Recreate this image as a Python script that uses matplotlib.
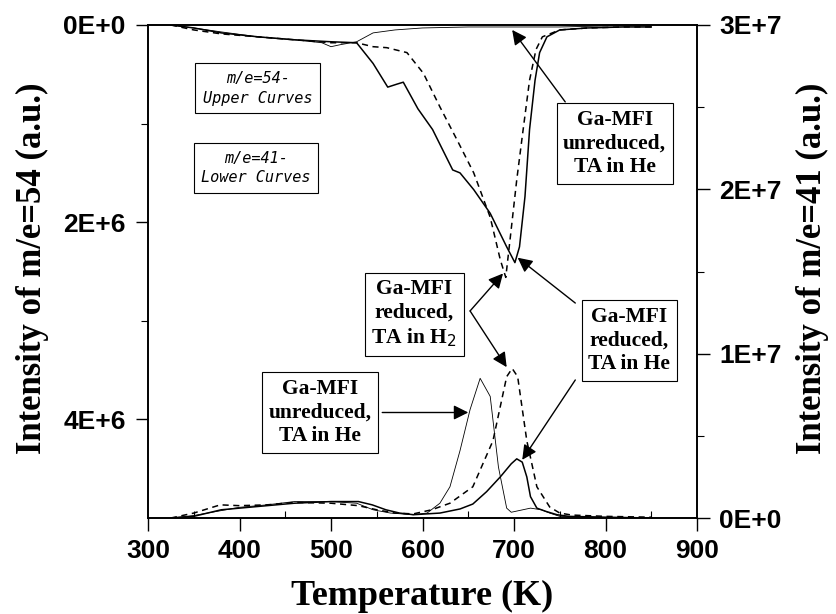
import numpy as np
import matplotlib
matplotlib.use('Agg')
import matplotlib.pyplot as plt
from matplotlib.ticker import FuncFormatter, MultipleLocator, FixedLocator

# m/e=54 (left axis, upper curves)
t54_red_he = [325, 350, 380, 420, 460, 500, 528, 546, 562, 572, 579, 595, 611, 633, 641, 656, 674, 692, 701,
              706, 712, 717, 723, 728, 736, 750, 780, 820, 850]
v54_red_he = [0, 0.03e6, 0.08e6, 0.12e6, 0.15e6, 0.17e6, 0.18e6, 0.39e6, 0.63e6, 0.60e6, 0.58e6, 0.85e6, 1.06e6,
              1.47e6, 1.50e6, 1.67e6, 1.91e6, 2.25e6, 2.41e6, 2.25e6, 1.74e6, 1.06e6, 0.56e6, 0.28e6, 0.12e6,
              0.05e6, 0.03e6, 0.02e6, 0.02e6]

t54_red_h2 = [325, 350, 380, 420, 460, 500, 528, 546, 561, 583, 601, 619, 638, 656, 674, 685, 691, 696, 703,
              710, 717, 724, 731, 750, 780, 820, 850]
v54_red_h2 = [0, 0.05e6, 0.09e6, 0.12e6, 0.15e6, 0.18e6, 0.18e6, 0.22e6, 0.23e6, 0.28e6, 0.49e6, 0.83e6,
              1.17e6, 1.50e6, 1.95e6, 2.38e6, 2.56e6, 2.15e6, 1.57e6, 1.06e6, 0.56e6, 0.25e6, 0.12e6, 0.05e6,
              0.03e6, 0.02e6, 0.02e6]

t54_unred_he = [325, 350, 380, 420, 460, 490, 500, 510, 528, 546, 570, 600, 650, 700, 750, 800, 850]
v54_unred_he = [0, 0.03e6, 0.07e6, 0.12e6, 0.15e6, 0.18e6, 0.22e6, 0.20e6, 0.17e6, 0.08e6, 0.05e6, 0.03e6,
                0.02e6, 0.02e6, 0.02e6, 0.01e6, 0.01e6]

# m/e=41 (right axis, lower curves)
t41_unred_he = [325, 350, 380, 400, 430, 460, 500, 528, 546, 565, 590, 605, 619, 630, 641, 652, 663, 674, 683,
                692, 697, 718, 730, 739, 750, 800, 850]
v41_unred_he = [0, 0.15e6, 0.45e6, 0.65e6, 0.8e6, 1.0e6, 1.0e6, 0.9e6, 0.5e6, 0.3e6, 0.2e6, 0.3e6, 0.9e6,
                1.9e6, 4.1e6, 6.6e6, 8.5e6, 7.4e6, 3.1e6, 0.6e6, 0.35e6, 0.6e6, 0.5e6, 0.3e6, 0.1e6, 0.03e6, 0]

t41_red_h2 = [325, 350, 379, 400, 430, 460, 500, 530, 550, 570, 590, 610, 630, 655, 677, 692, 698, 704, 714,
              725, 739, 750, 763, 800, 850]
v41_red_h2 = [0, 0.3e6, 0.8e6, 0.75e6, 0.8e6, 0.95e6, 0.9e6, 0.75e6, 0.5e6, 0.3e6, 0.25e6, 0.5e6, 0.9e6,
              1.9e6, 4.7e6, 8.6e6, 9.1e6, 8.6e6, 4.7e6, 1.9e6, 0.67e6, 0.3e6, 0.18e6, 0.1e6, 0.05e6]

t41_red_he = [325, 350, 380, 400, 430, 460, 500, 530, 545, 560, 575, 590, 619, 641, 655, 670, 685, 697, 703,
              709, 714, 718, 725, 735, 747, 760, 800, 850]
v41_red_he = [0, 0.1e6, 0.5e6, 0.6e6, 0.75e6, 0.9e6, 1.0e6, 1.0e6, 0.8e6, 0.5e6, 0.3e6, 0.2e6, 0.3e6, 0.55e6,
              0.85e6, 1.6e6, 2.5e6, 3.3e6, 3.6e6, 3.4e6, 2.5e6, 1.3e6, 0.6e6, 0.4e6, 0.2e6, 0.1e6, 0.05e6, 0]

BOLD_SANS = 'Liberation Sans'
SERIF = 'Liberation Serif'


def sci_fmt(v, pos):
    if v == 0:
        return '0E+0'
    e = int(np.floor(np.log10(abs(v)) + 1e-9))
    return '%dE+%d' % (round(v / 10 ** e), e)


fig = plt.figure(figsize=(8.37, 6.14), dpi=100)
ax = fig.add_axes([148 / 837, 96 / 614, 549 / 837, 493 / 614])
ax2 = ax.twinx()

# upper curves
ax.plot(t54_red_he, v54_red_he, color='k', lw=1.1)
ax.plot(t54_red_h2, v54_red_h2, color='k', lw=1.1, ls=(0, (4, 3)))
ax.plot(t54_unred_he, v54_unred_he, color='k', lw=0.6)
# lower curves
ax2.plot(t41_red_he, v41_red_he, color='k', lw=1.1)
ax2.plot(t41_red_h2, v41_red_h2, color='k', lw=1.1, ls=(0, (4, 3)))
ax2.plot(t41_unred_he, v41_unred_he, color='k', lw=0.6)

ax.set_xlim(300, 900)
ax.set_ylim(5e6, 0)
ax2.set_ylim(0, 3e7)

ax.xaxis.set_major_locator(MultipleLocator(100))
ax.xaxis.set_minor_locator(MultipleLocator(50))
ax.yaxis.set_major_locator(FixedLocator([0, 2e6, 4e6]))
ax.yaxis.set_minor_locator(FixedLocator([1e6, 3e6]))
ax2.yaxis.set_major_locator(MultipleLocator(1e7))
ax2.yaxis.set_minor_locator(MultipleLocator(5e6))
ax.yaxis.set_major_formatter(FuncFormatter(sci_fmt))
ax2.yaxis.set_major_formatter(FuncFormatter(sci_fmt))

ax.tick_params(axis='x', which='major', direction='out', length=9, width=1, pad=6)
ax.tick_params(axis='x', which='minor', direction='in', length=5, width=0.8)
ax.tick_params(axis='y', which='major', direction='out', length=9, width=1, pad=7)
ax.tick_params(axis='y', which='minor', direction='out', length=5, width=0.8)
ax2.tick_params(axis='y', which='major', direction='out', length=9, width=1, pad=7)
ax2.tick_params(axis='y', which='minor', direction='out', length=5, width=0.8)

for lab in ax.get_xticklabels() + ax.get_yticklabels() + ax2.get_yticklabels():
    lab.set_fontfamily(BOLD_SANS)
    lab.set_fontweight('bold')
    lab.set_fontsize(19)

for a in (ax, ax2):
    for s in a.spines.values():
        s.set_linewidth(1.2)

fig.text(422 / 837, 9 / 614, 'Temperature (K)', family=SERIF, weight='bold', size=26,
         ha='center', va='baseline')
fig.text(32 / 837, 1 - 268 / 614, 'Intensity of m/e=54 (a.u.)', family=SERIF, weight='bold', size=25,
         ha='center', va='center', rotation=90)
fig.text(812 / 837, 1 - 268 / 614, 'Intensity of m/e=41 (a.u.)', family=SERIF, weight='bold', size=25,
         ha='center', va='center', rotation=90)

# legend-like boxes
box_small = dict(boxstyle='square,pad=0.5', fc='white', ec='k', lw=0.8)
ax.text(420, 0.64e6, 'm/e=54-\nUpper Curves', family='DejaVu Sans Mono', style='italic', size=11,
        ha='center', va='center', bbox=box_small, linespacing=1.4)
ax.text(418, 1.45e6, 'm/e=41-\nLower Curves', family='DejaVu Sans Mono', style='italic', size=11,
        ha='center', va='center', bbox=box_small, linespacing=1.4)

box = dict(boxstyle='square,pad=0.3', fc='white', ec='k', lw=0.8)
arrow = dict(arrowstyle='-|>', color='k', lw=1.0, mutation_scale=22, shrinkA=0, shrinkB=0)
tkw = dict(family=SERIF, weight='bold', size=15.5, ha='center', va='center', linespacing=1.25, bbox=box)

# unreduced, TA in He (top)
ax.annotate('', xy=(698, 0.05e6), xytext=(756, 0.78e6), arrowprops=arrow)
ax.text(810, 1.2e6, 'Ga-MFI\nunreduced,\nTA in He', **tkw)

# reduced, TA in H2
ax.annotate('', xy=(688, 2.52e6), xytext=(652, 2.9e6), arrowprops=arrow)
ax.annotate('', xy=(692, 3.47e6), xytext=(652, 2.9e6), arrowprops=arrow)
ax.text(591, 2.93e6, 'Ga-MFI\nreduced,\nTA in H$_2$', **tkw)

# reduced, TA in He
ax.annotate('', xy=(704, 2.36e6), xytext=(767, 2.82e6), arrowprops=arrow)
ax.annotate('', xy=(709, 4.41e6), xytext=(767, 3.6e6), arrowprops=arrow)
ax.text(826, 3.2e6, 'Ga-MFI\nreduced,\nTA in He', **tkw)

# unreduced, TA in He (lower)
ax.annotate('', xy=(650, 3.93e6), xytext=(556, 3.93e6), arrowprops=arrow)
ax.text(488, 3.93e6, 'Ga-MFI\nunreduced,\nTA in He', **tkw)

plt.savefig('out.png', dpi=100)
